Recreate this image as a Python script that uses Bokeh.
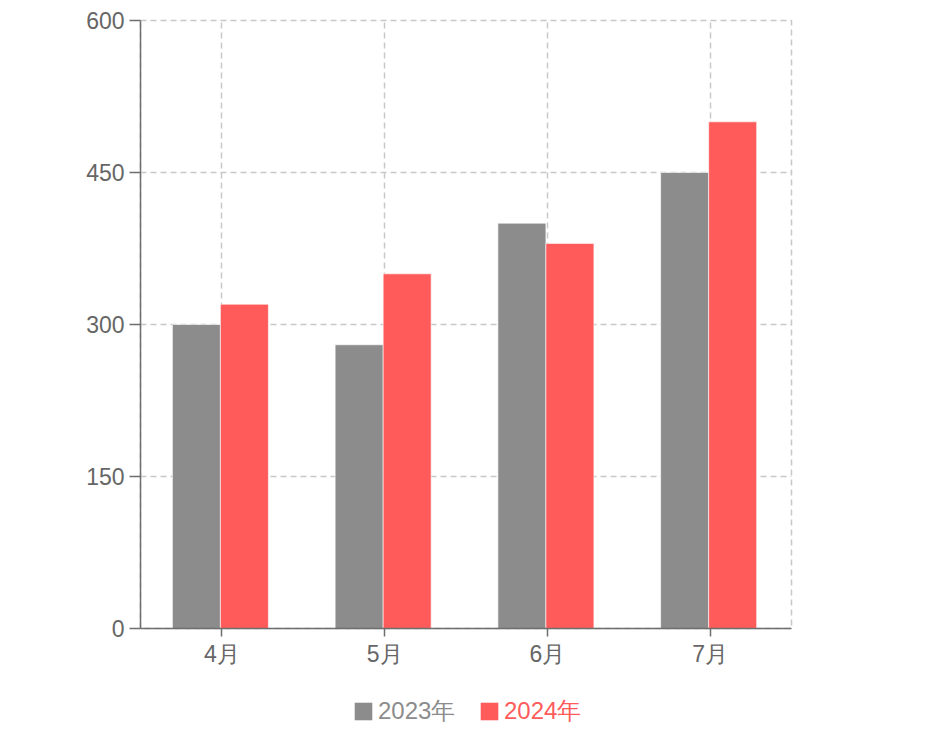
from bokeh.plotting import figure
from bokeh.models import ColumnDataSource, FactorRange, Range1d, Legend, LegendItem, FixedTicker
from bokeh.layouts import column
from bokeh.transform import dodge
from bokeh.embed import file_html
from bokeh.resources import INLINE

months = ["4月", "5月", "6月", "7月"]
series_names = ["2023年", "2024年"]
values_2023 = [300, 280, 400, 450]
values_2024 = [320, 350, 380, 500]
colors = ["#8c8c8c", "#ff5b5b"]
y_ticks = [0, 150, 300, 450, 600]

source = ColumnDataSource(data=dict(month=months, v2023=values_2023, v2024=values_2024))

FONT = "Liberation Sans"
FS = "23px"

p = figure(
    x_range=FactorRange(*months, range_padding=0),
    y_range=Range1d(0, 600),
    width=916, height=680,
    output_backend="svg", toolbar_location=None,
    min_border_left=140, min_border_right=125, min_border_top=20, min_border_bottom=52,
)

bw = 0.295
shift = -0.009
r1 = p.vbar(x=dodge("month", shift - bw / 2, range=p.x_range), top="v2023", width=bw, source=source,
            fill_color=colors[0], line_color="white", line_alpha=0.6, line_width=1)
r2 = p.vbar(x=dodge("month", shift + bw / 2, range=p.x_range), top="v2024", width=bw, source=source,
            fill_color=colors[1], line_color="white", line_alpha=0.6, line_width=1)

p.outline_line_color = "#c8c8c8"
p.outline_line_dash = "6 4"
p.outline_line_width = 1.5

for g in (p.xgrid, p.ygrid):
    g.grid_line_color = "#c8c8c8"
    g.grid_line_dash = "6 4"
    g.grid_line_width = 1.5

p.yaxis.ticker = FixedTicker(ticks=y_ticks)
p.yaxis.minor_tick_line_color = None
for ax in (p.xaxis, p.yaxis):
    ax.axis_line_color = "#6e6e6e"
    ax.axis_line_width = 1.5
    ax.major_tick_line_color = "#6e6e6e"
    ax.major_tick_line_width = 1.5
    ax.major_tick_in = 0
    ax.major_label_text_color = "#666666"
    ax.major_label_text_font = FONT
    ax.major_label_text_font_size = FS
p.yaxis.major_tick_out = 11
p.yaxis.major_label_standoff = 5
p.xaxis.major_tick_out = 8
p.xaxis.major_label_standoff = 4

# Legend strip (separate figure so the legend is not clipped by the chart frame)
lf = figure(width=916, height=56, output_backend="svg", toolbar_location=None,
            x_range=Range1d(0, 1), y_range=Range1d(0, 1),
            min_border_left=0, min_border_right=0, min_border_top=0, min_border_bottom=0)
lf.axis.visible = False
lf.grid.visible = False
lf.outline_line_color = None
dummy = ColumnDataSource(data=dict(x=[0], top=[0]))
lr = [lf.vbar(x="x", top="top", width=0.0, source=dummy, fill_color=c, line_color=None) for c in colors]

leg_x = [212, 338]
for i, name in enumerate(series_names):
    leg = Legend(items=[LegendItem(label=name, renderers=[lr[i]])],
                 location=(leg_x[i], 9),
                 orientation="horizontal",
                 glyph_width=22, glyph_height=22, label_standoff=4,
                 padding=0, margin=0, spacing=0,
                 border_line_color=None, background_fill_alpha=0,
                 label_text_font=FONT, label_text_font_size="24px",
                 label_text_color=colors[i])
    lf.add_layout(leg)

layout = column(p, lf, spacing=0)
open("out.html", "w").write(file_html(layout, INLINE))
